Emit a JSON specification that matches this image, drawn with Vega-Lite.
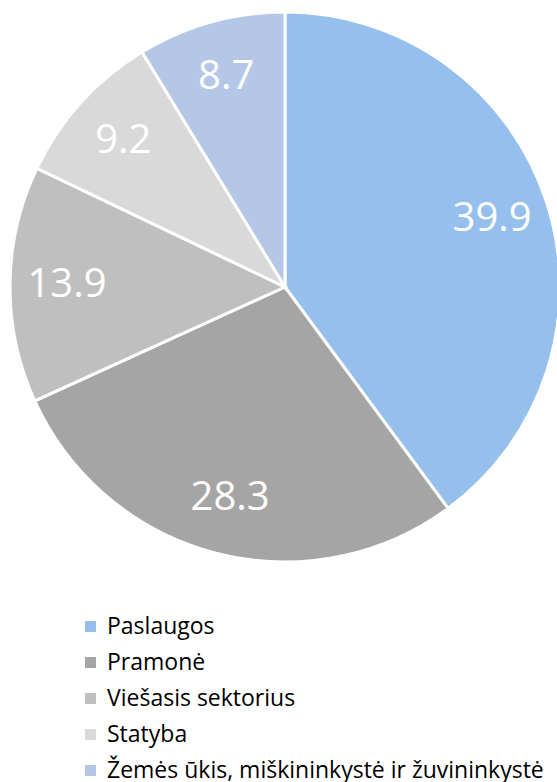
{
  "$schema": "https://vega.github.io/schema/vega-lite/v6.json",
  "width": 544,
  "height": 574,
  "autosize": "none",
  "padding": {"left": 13, "top": 0, "right": 0, "bottom": 208},
  "background": "white",
  "config": {"view": {"stroke": null}, "font": "Open Sans"},
  "data": {
    "values": [
      {"sector": "Paslaugos", "value": 39.9, "order": 1},
      {"sector": "Pramonė", "value": 28.3, "order": 2},
      {"sector": "Viešasis sektorius", "value": 13.9, "order": 3},
      {"sector": "Statyba", "value": 9.2, "order": 4},
      {"sector": "Žemės ūkis, miškininkystė ir žuvininkystė", "value": 8.7, "order": 5}
    ]
  },
  "encoding": {
    "theta": {"field": "value", "type": "quantitative", "stack": true},
    "order": {"field": "order", "type": "quantitative"},
    "color": {
      "field": "sector",
      "type": "nominal",
      "sort": ["Paslaugos", "Pramonė", "Viešasis sektorius", "Statyba", "Žemės ūkis, miškininkystė ir žuvininkystė"],
      "scale": {
        "domain": ["Paslaugos", "Pramonė", "Viešasis sektorius", "Statyba", "Žemės ūkis, miškininkystė ir žuvininkystė"],
        "range": ["#95BFEC", "#A5A5A5", "#BFBFBF", "#D9D9D9", "#B4C7E7"]
      },
      "legend": {
        "title": null,
        "orient": "none",
        "legendX": 66,
        "legendY": 615,
        "padding": 0,
        "symbolType": "square",
        "symbolSize": 121,
        "symbolStrokeWidth": 0,
        "labelFont": "Open Sans",
        "labelFontSize": 23,
        "labelColor": "#000000",
        "labelLimit": 600,
        "labelOffset": 5,
        "rowPadding": 12
      }
    }
  },
  "layer": [
    {
      "mark": {"type": "arc", "outerRadius": 275, "stroke": "white", "strokeWidth": 3}
    },
    {
      "mark": {"type": "text", "radius": 218, "fontSize": 40, "color": "white", "font": "Open Sans"},
      "encoding": {
        "text": {"field": "value", "type": "quantitative", "format": ".1f"},
        "color": {"value": "white"}
      }
    }
  ]
}
